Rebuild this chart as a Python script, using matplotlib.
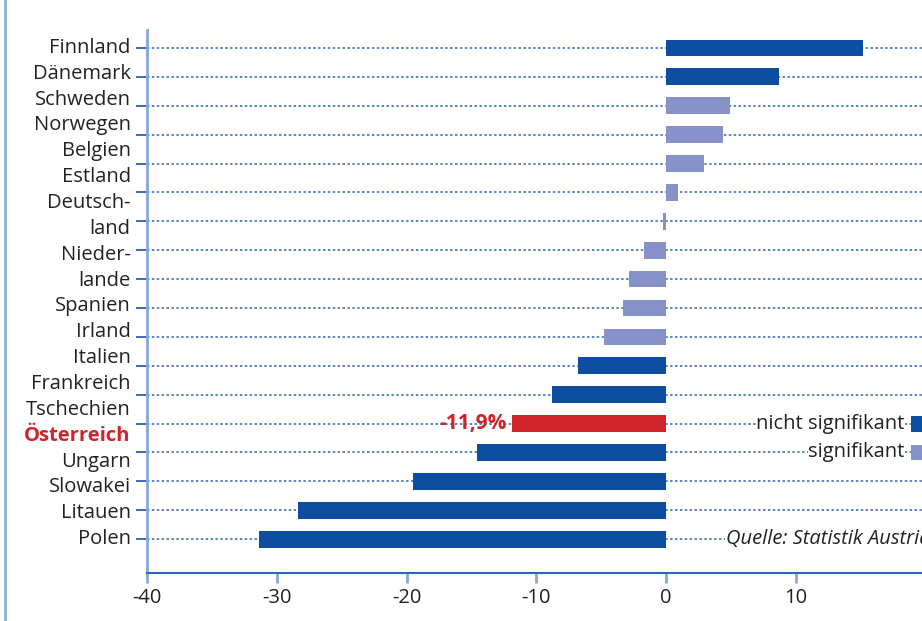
import numpy as np
import matplotlib.pyplot as plt
from matplotlib.lines import Line2D

plt.rcParams['font.family'] = ['Open Sans', 'DejaVu Sans']

laender = ['Finnland', 'Dänemark', 'Schweden', 'Norwegen', 'Belgien', 'Estland',
           'Deutschland', 'Niederlande', 'Spanien', 'Irland', 'Italien', 'Frankreich',
           'Tschechien', 'Österreich', 'Ungarn', 'Slowakei', 'Litauen', 'Polen']
werte = [15.2, 8.7, 4.9, 4.4, 2.9, 0.9, -0.2, -1.7, -2.85, -3.3, -4.8, -6.8,
         -8.8, -11.9, -14.6, -19.5, -28.4, -31.4]
# n = nicht signifikant, s = signifikant, a = Österreich
gruppe = ['n', 'n', 's', 's', 's', 's', 's', 's', 's', 's', 's', 'n',
          'n', 'a', 'n', 'n', 'n', 'n']
# Beschriftung als Textblock (mit Silbentrennung wie im Original)
zeilen = ['Finnland', 'Dänemark', 'Schweden', 'Norwegen', 'Belgien', 'Estland',
          'Deutsch-', 'land', 'Nieder-', 'lande', 'Spanien', 'Irland', 'Italien',
          'Frankreich', 'Tschechien', 'Österreich', 'Ungarn', 'Slowakei', 'Litauen', 'Polen']
xticks = [-40, -30, -20, -10, 0, 10]

dunkel = '#0d4ea0'
hell = '#8692c8'
rot = '#d0232b'
text_farbe = '#222222'
farben = {'n': dunkel, 's': hell, 'a': rot}

fig = plt.figure(figsize=(9.22, 6.21), dpi=100)
ax = fig.add_axes([147/922, 1-573/621, 1-147/922, (573-30)/621])

y = np.arange(len(laender))
for yy in y:
    ax.axhline(yy, color='#2f64b8', lw=1.1, ls=(0, (1.6, 1.6)), zorder=1)
ax.barh(y, werte, height=0.58, color=[farben[g] for g in gruppe], zorder=2)

ax.set_xlim(-40, 19.73)
ax.set_ylim(len(laender) - 1 + 1.17, -0.62)
ax.set_xticks(xticks)
ax.set_xticklabels([str(t) for t in xticks], fontsize=14.5, color=text_farbe)
ax.set_yticks(y)
ax.set_yticklabels([])
ax.tick_params(axis='y', length=8, width=1.3, color='#2f5fae', direction='out')
ax.tick_params(axis='x', length=7, width=2, color='#86a8da', direction='out', pad=4)

for s in ['top', 'right']:
    ax.spines[s].set_visible(False)
ax.spines['left'].set_color('#86a8da')
ax.spines['left'].set_linewidth(2)
ax.spines['bottom'].set_color('#2f64b8')
ax.spines['bottom'].set_linewidth(1.5)

# Länderbeschriftung als unabhängiger Textblock
pos = np.linspace(0, len(laender) - 1, len(zeilen))
for z, p in zip(zeilen, pos):
    if z == 'Österreich':
        ax.text(-0.021, p, z, transform=ax.get_yaxis_transform(), ha='right', va='center',
                fontsize=14.5, color=rot, fontweight='bold')
    else:
        ax.text(-0.021, p, z, transform=ax.get_yaxis_transform(), ha='right', va='center',
                fontsize=14.5, color=text_farbe)

i_at = laender.index('Österreich')
ax.text(werte[i_at] - 0.4, i_at, f'{werte[i_at]:.1f}%'.replace('.', ','),
        ha='right', va='center', fontsize=15, color=rot, fontweight='bold', zorder=3)

# Legende
box = dict(facecolor='white', edgecolor='none', pad=0.5)
ax.text(18.4, 13, 'nicht signifikant', ha='right', va='center', fontsize=14.5,
        color=text_farbe, bbox=box, zorder=3)
ax.text(18.4, 14, 'signifikant', ha='right', va='center', fontsize=14.5,
        color=text_farbe, bbox=box, zorder=3)
ax.barh([13], [2], left=[18.9], height=0.55, color=dunkel, zorder=3)
ax.barh([14], [2], left=[18.9], height=0.55, color=hell, zorder=3)

# Quellenangabe läuft wie im Original über den rechten Rand hinaus
ax.text(4.6, 17, 'Quelle: Statistik Austria', ha='left', va='center', fontsize=14.5,
        style='italic', color=text_farbe, bbox=box, zorder=3)

fig.add_artist(Line2D([5/922, 5/922], [0, 1], color='#8fb0dc', lw=2))

fig.savefig('out.png', dpi=100)
